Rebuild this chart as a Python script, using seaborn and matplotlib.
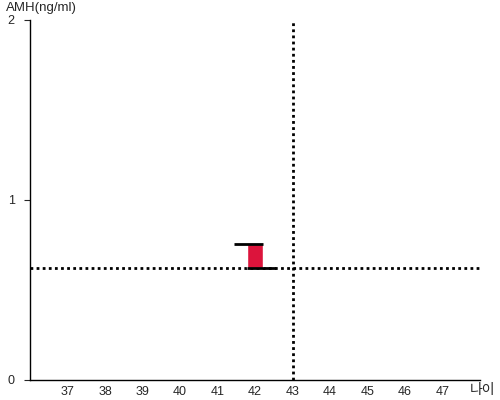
import matplotlib
matplotlib.use("Agg")
import matplotlib.pyplot as plt
import seaborn as sns

# data
ages = [42]
amh_low = [0.622]
amh_high = [0.756]
ref_amh = 0.622
ref_age = 43
x_ticks = [37, 38, 39, 40, 41, 42, 43, 44, 45, 46, 47]
y_ticks = [0, 1, 2]

sns.set_style("white")
plt.rcParams['font.family'] = ['Liberation Sans', 'Noto Sans CJK KR', 'DejaVu Sans']

fig = plt.figure(figsize=(5, 4), dpi=100)
ax = fig.add_axes([0.06, 0.05, 0.90, 0.90])

heights = [h - l for h, l in zip(amh_high, amh_low)]
ax.bar(ages, heights, bottom=amh_low, width=0.43, color='#DC143C', zorder=2)
for a, lo, hi in zip(ages, amh_low, amh_high):
    ax.hlines(hi, a - 0.55, a + 0.22, color='black', lw=2, zorder=3)
    ax.hlines(lo, a - 0.22, a + 0.55, color='black', lw=2, zorder=3)

ax.axhline(ref_amh, color='black', ls=(0, (1, 1.2)), lw=2, zorder=1)
ax.axvline(ref_age, color='black', ls=(0, (1, 1.2)), lw=2, zorder=1)

ax.set_xlim(36, 48)
ax.set_ylim(0, 2)
ax.set_xticks(x_ticks)
ax.set_yticks(y_ticks)
ax.tick_params(axis='x', length=0, labelsize=9, pad=4)
ax.tick_params(axis='y', length=4, labelsize=9, pad=7, left=True)
for s in ['top', 'right']:
    ax.spines[s].set_visible(False)
for s in ['left', 'bottom']:
    ax.spines[s].set_color('black')
    ax.spines[s].set_linewidth(1)

fig.text(0.012, 0.966, 'AMH(ng/ml)', fontsize=9.5, ha='left', va='bottom')
fig.text(0.99, 0.008, '나이', fontsize=10, ha='right', va='bottom')

fig.savefig('out.png', dpi=100)
